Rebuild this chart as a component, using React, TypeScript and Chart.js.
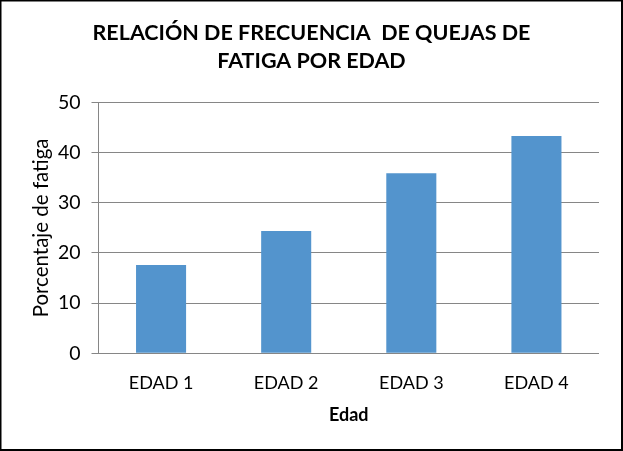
import React, { useEffect, useRef } from "react";
import { Chart, registerables } from "chart.js";

Chart.register(...registerables);

const categories = ["EDAD 1", "EDAD 2", "EDAD 3", "EDAD 4"];
const values = [17.6, 24.4, 35.9, 43.3];
const titleLines = ["RELACIÓN DE FRECUENCIA  DE QUEJAS DE", "FATIGA POR EDAD"];
const yTitle = "Porcentaje de fatiga";
const xTitle = "Edad";

const FONT = "Lato, 'Liberation Sans', sans-serif";

const borderPlugin = {
  id: "outerBorder",
  beforeDraw(chart: any) {
    const ctx = chart.ctx;
    ctx.save();
    ctx.fillStyle = "#ffffff";
    ctx.fillRect(0, 0, chart.width, chart.height);
    ctx.restore();
  },
  afterDraw(chart: any) {
    const ctx = chart.ctx;
    ctx.save();
    ctx.fillStyle = "#000000";
    ctx.fillRect(0, 0, 1.5, chart.height);
    ctx.fillRect(0, 0, chart.width, 1.5);
    ctx.fillRect(621, 0, 2, chart.height);
    ctx.fillRect(0, 449, chart.width, 2);
    // chart title, centred on the whole picture
    ctx.fillStyle = "#000000";
    ctx.font = `bold 21.5px ${FONT}`;
    ctx.textAlign = "center";
    ctx.textBaseline = "middle";
    const cx = 311.5;
    titleLines.forEach((line, i) => {
      ctx.fillText(line, cx, 33 + i * 28.5);
    });
    ctx.restore();
  },
};

export default function App() {
  const ref = useRef<HTMLCanvasElement | null>(null);

  useEffect(() => {
    if (!ref.current) return;
    const chart = new Chart(ref.current, {
      type: "bar",
      data: {
        labels: categories,
        datasets: [
          {
            data: values,
            backgroundColor: "#5394CD",
            borderWidth: 0,
            barPercentage: 0.4,
            categoryPercentage: 1,
          },
        ],
      },
      plugins: [borderPlugin],
      options: {
        responsive: false,
        animation: false,
        devicePixelRatio: 1,
        layout: { padding: { left: 0, right: 24, top: 102.5, bottom: 0 } },
        plugins: {
          legend: { display: false },
          tooltip: { enabled: false },
          title: { display: false },
        },
        scales: {
          x: {
            grid: { display: false },
            border: { display: false },
            ticks: {
              color: "#000000",
              font: { family: FONT, size: 18 },
              padding: 11,
              maxRotation: 0,
            },
            title: {
              display: true,
              text: xTitle,
              color: "#000000",
              font: { family: FONT, size: 18, weight: "bold", lineHeight: 1.2 },
              padding: { top: 0, bottom: 25 },
            },
            afterFit(scale: any) {
              scale.height = 97.7;
            },
          },
          y: {
            min: 0,
            max: 50,
            ticks: {
              stepSize: 10,
              color: "#000000",
              font: { family: FONT, size: 19.5 },
              padding: 11,
            },
            grid: {
              color: "#868686",
              lineWidth: 1,
              drawTicks: true,
              tickLength: 7,
            },
            border: { display: true, color: "#868686", width: 1 },
            title: {
              display: true,
              text: yTitle,
              color: "#000000",
              font: { family: FONT, size: 20.5, lineHeight: 1.2 },
              padding: { top: 29.5, bottom: 0 },
            },
            afterFit(scale: any) {
              scale.width = 98.5;
            },
          },
        },
      },
    });
    return () => chart.destroy();
  }, []);

  return (
    <div style={{ position: "absolute", left: 0, top: 0, width: 623, height: 451 }}>
      <canvas ref={ref} width={623} height={451} style={{ display: "block" }} />
    </div>
  );
}
